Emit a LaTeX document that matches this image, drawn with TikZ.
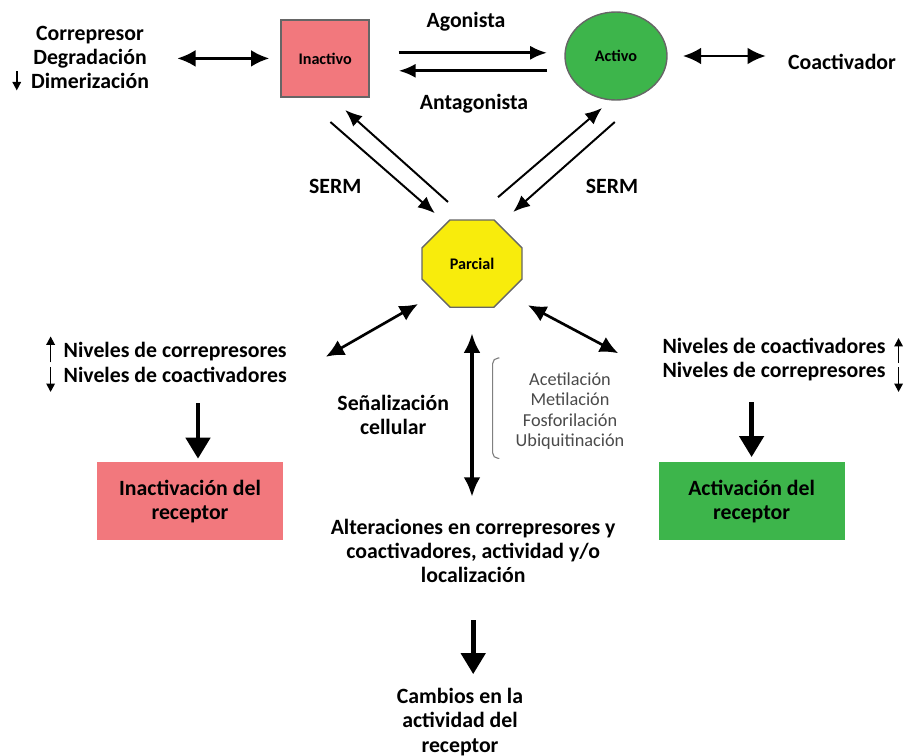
\documentclass[tikz,border=0pt]{standalone}
\usepackage{fontspec}
\setmainfont{Carlito}
\usepackage{tikz}
\usetikzlibrary{arrows.meta,positioning,shapes.geometric,shapes.misc}
\definecolor{inactred}{HTML}{F2787D}
\definecolor{actgreen}{HTML}{3DB54B}
\definecolor{partyellow}{HTML}{F8EC0C}
\definecolor{edgegrey}{HTML}{666666}
\definecolor{listgrey}{HTML}{4A4A4A}
\tikzset{
  statebox/.style={draw=edgegrey, line width=1pt, inner sep=0pt,
    font=\fontsize{11.5}{13}\selectfont\bfseries},
  resultbox/.style={align=center, minimum width=4.65cm, minimum height=1.95cm,
    font=\fontsize{15.5}{17.2}\selectfont\bfseries},
  txt/.style={align=center, inner sep=2pt, font=\fontsize{15.5}{17.2}\selectfont\bfseries},
  ptmtxt/.style={align=center, inner sep=2pt, text=listgrey, font=\fontsize{13}{14.6}\selectfont},
  flow/.style={-{Latex[length=12pt,width=10pt]}, line width=2pt},
  sermflow/.style={-{Latex[length=12pt,width=10pt]}, line width=1.4pt},
  dflow/.style={{Latex[length=13pt,width=12pt]}-{Latex[length=13pt,width=12pt]}, line width=1.9pt},
  vflow/.style={{Latex[length=14pt,width=12pt]}-{Latex[length=14pt,width=12pt]}, line width=2.8pt},
  bigflow/.style={-{Triangle[length=15pt,width=17pt]}, line width=3.5pt},
  levarrow/.style={-{Triangle[length=6pt,width=6pt]}, line width=1.2pt},
  brk/.style={draw=gray, line width=0.8pt, rounded corners=4pt},
}

\begin{document}
\begin{tikzpicture}
  \useasboundingbox (0,0) rectangle (22.675,-18.9);
  % estados del receptor
  \node[statebox, fill=inactred, minimum width=2.2cm, minimum height=1.93cm] (inac) at (8.13,-1.46) {Inactivo};
  \node[statebox, ellipse, fill=actgreen, minimum width=2.55cm, minimum height=2.2cm] (act) at (15.40,-1.40) {Activo};
  \node[statebox, chamfered rectangle, chamfered rectangle xsep=0.69cm, chamfered rectangle ysep=0.65cm,
    minimum width=2.5cm, minimum height=2.18cm, fill=partyellow] (parc) at (11.80,-6.59) {Parcial};
  % textos de arriba
  \node[txt] (corr) at (2.25,-1.43) {Correpresor\\Degradación\\Dimerización};
  \node[txt] (coact) at (21.05,-1.55) {Coactivador};
  \node[txt] (agon) at (11.65,-0.55) {Agonista};
  \node[txt] (antag) at (11.85,-2.60) {Antagonista};
  \node[txt] (sermL) at (8.38,-4.65) {SERM};
  \node[txt] (sermR) at (15.30,-4.65) {SERM};
  % niveles
  \node[txt] (nivL) at (4.38,-9.06) {Niveles de correpresores\\Niveles de coactivadores};
  \node[txt] (nivR) at (19.35,-8.99) {Niveles de coactivadores\\Niveles de correpresores};
  \node[txt] (senal) at (9.83,-10.38) {Señalización\\cellular};
  \node[ptmtxt] (ptm) at (14.25,-10.28) {Acetilación\\Metilación\\Fosforilación\\Ubiquitinación};
  % resultados
  \node[resultbox, fill=inactred] (inactv) at (4.75,-12.53) {Inactivación del\\receptor};
  \node[resultbox, fill=actgreen] (actv) at (18.79,-12.53) {Activación del\\receptor};
  \node[txt] (alter) at (11.83,-13.78) {Alteraciones en correpresores y\\coactivadores, actividad y/o\\localización};
  \node[txt] (camb) at (11.50,-18.05) {Cambios en la\\actividad del\\receptor};

  \draw[dflow, shorten <=0.63cm, shorten >=0.28cm] (corr.east |- inac.west) -- (inac.west);
  \draw[dflow, shorten <=0.38cm, shorten >=0.48cm] (act.east) -- (act.east -| coact.west);
  \draw[flow, shorten <=0.72cm, shorten >=0.43cm] ([yshift=0.14cm]inac.east) -- ([yshift=0.14cm]inac.east -| act.west);
  \draw[flow, shorten <=0.43cm, shorten >=0.72cm] ([yshift=-0.31cm]inac.east -| act.west) -- ([yshift=-0.31cm]inac.east);
  % SERM
  \draw[sermflow] ([xshift=0.13cm,yshift=-1.59cm]inac.center) -- ([xshift=-0.93cm,yshift=1.26cm]parc.center);
  \draw[sermflow] ([xshift=-0.60cm,yshift=1.54cm]parc.center) -- ([xshift=0.50cm,yshift=-1.29cm]inac.center);
  \draw[sermflow] ([xshift=0.65cm,yshift=1.66cm]parc.center) -- ([xshift=-0.35cm,yshift=-1.30cm]act.center);
  \draw[sermflow] ([xshift=-0.03cm,yshift=-1.65cm]act.center) -- ([xshift=1.03cm,yshift=1.29cm]parc.center);
  % desde parcial
  \draw[dflow] ([xshift=-1.35cm,yshift=-1.01cm]parc.center) -- ([xshift=0.9cm,yshift=0.14cm]nivL.east);
  \draw[dflow] ([xshift=1.40cm,yshift=-1.04cm]parc.center) -- ([xshift=-1.03cm,yshift=0.16cm]nivR.west);
  \draw[vflow, shorten <=0.63cm, shorten >=0.48cm] (parc.south) -- (parc.south |- alter.north);
  \draw[brk] ([xshift=-0.33cm,yshift=1.33cm]ptm.west) -- ([xshift=-0.50cm,yshift=1.33cm]ptm.west)
    -- ([xshift=-0.50cm,yshift=-1.18cm]ptm.west) -- ([xshift=-0.33cm,yshift=-1.18cm]ptm.west);
  % flechas pequenas
  \draw[levarrow] ([xshift=-0.28cm,yshift=-0.35cm]corr.west) -- ([xshift=-0.28cm,yshift=-0.83cm]corr.west);
  \draw[levarrow] ([xshift=-0.25cm,yshift=0cm]nivL.west) -- ([xshift=-0.25cm,yshift=0.65cm]nivL.west);
  \draw[levarrow] ([xshift=-0.25cm,yshift=-0.11cm]nivL.west) -- ([xshift=-0.25cm,yshift=-0.74cm]nivL.west);
  \draw[levarrow] ([xshift=0.25cm,yshift=-0.09cm]nivR.east) -- ([xshift=0.25cm,yshift=0.54cm]nivR.east);
  \draw[levarrow] ([xshift=0.25cm,yshift=-0.19cm]nivR.east) -- ([xshift=0.25cm,yshift=-0.81cm]nivR.east);
  % hacia los resultados
  \draw[bigflow, shorten <=0.45cm, shorten >=0.08cm] ([xshift=0.2cm]inactv.north |- nivL.south) -- ([xshift=0.2cm]inactv.north);
  \draw[bigflow, shorten <=0.45cm, shorten >=0.12cm] (actv.north |- nivR.south) -- (actv.north);
  \draw[bigflow, shorten <=0.85cm, shorten >=0.28cm] (alter.south) -- (alter.south |- camb.north);
\end{tikzpicture}
\end{document}
